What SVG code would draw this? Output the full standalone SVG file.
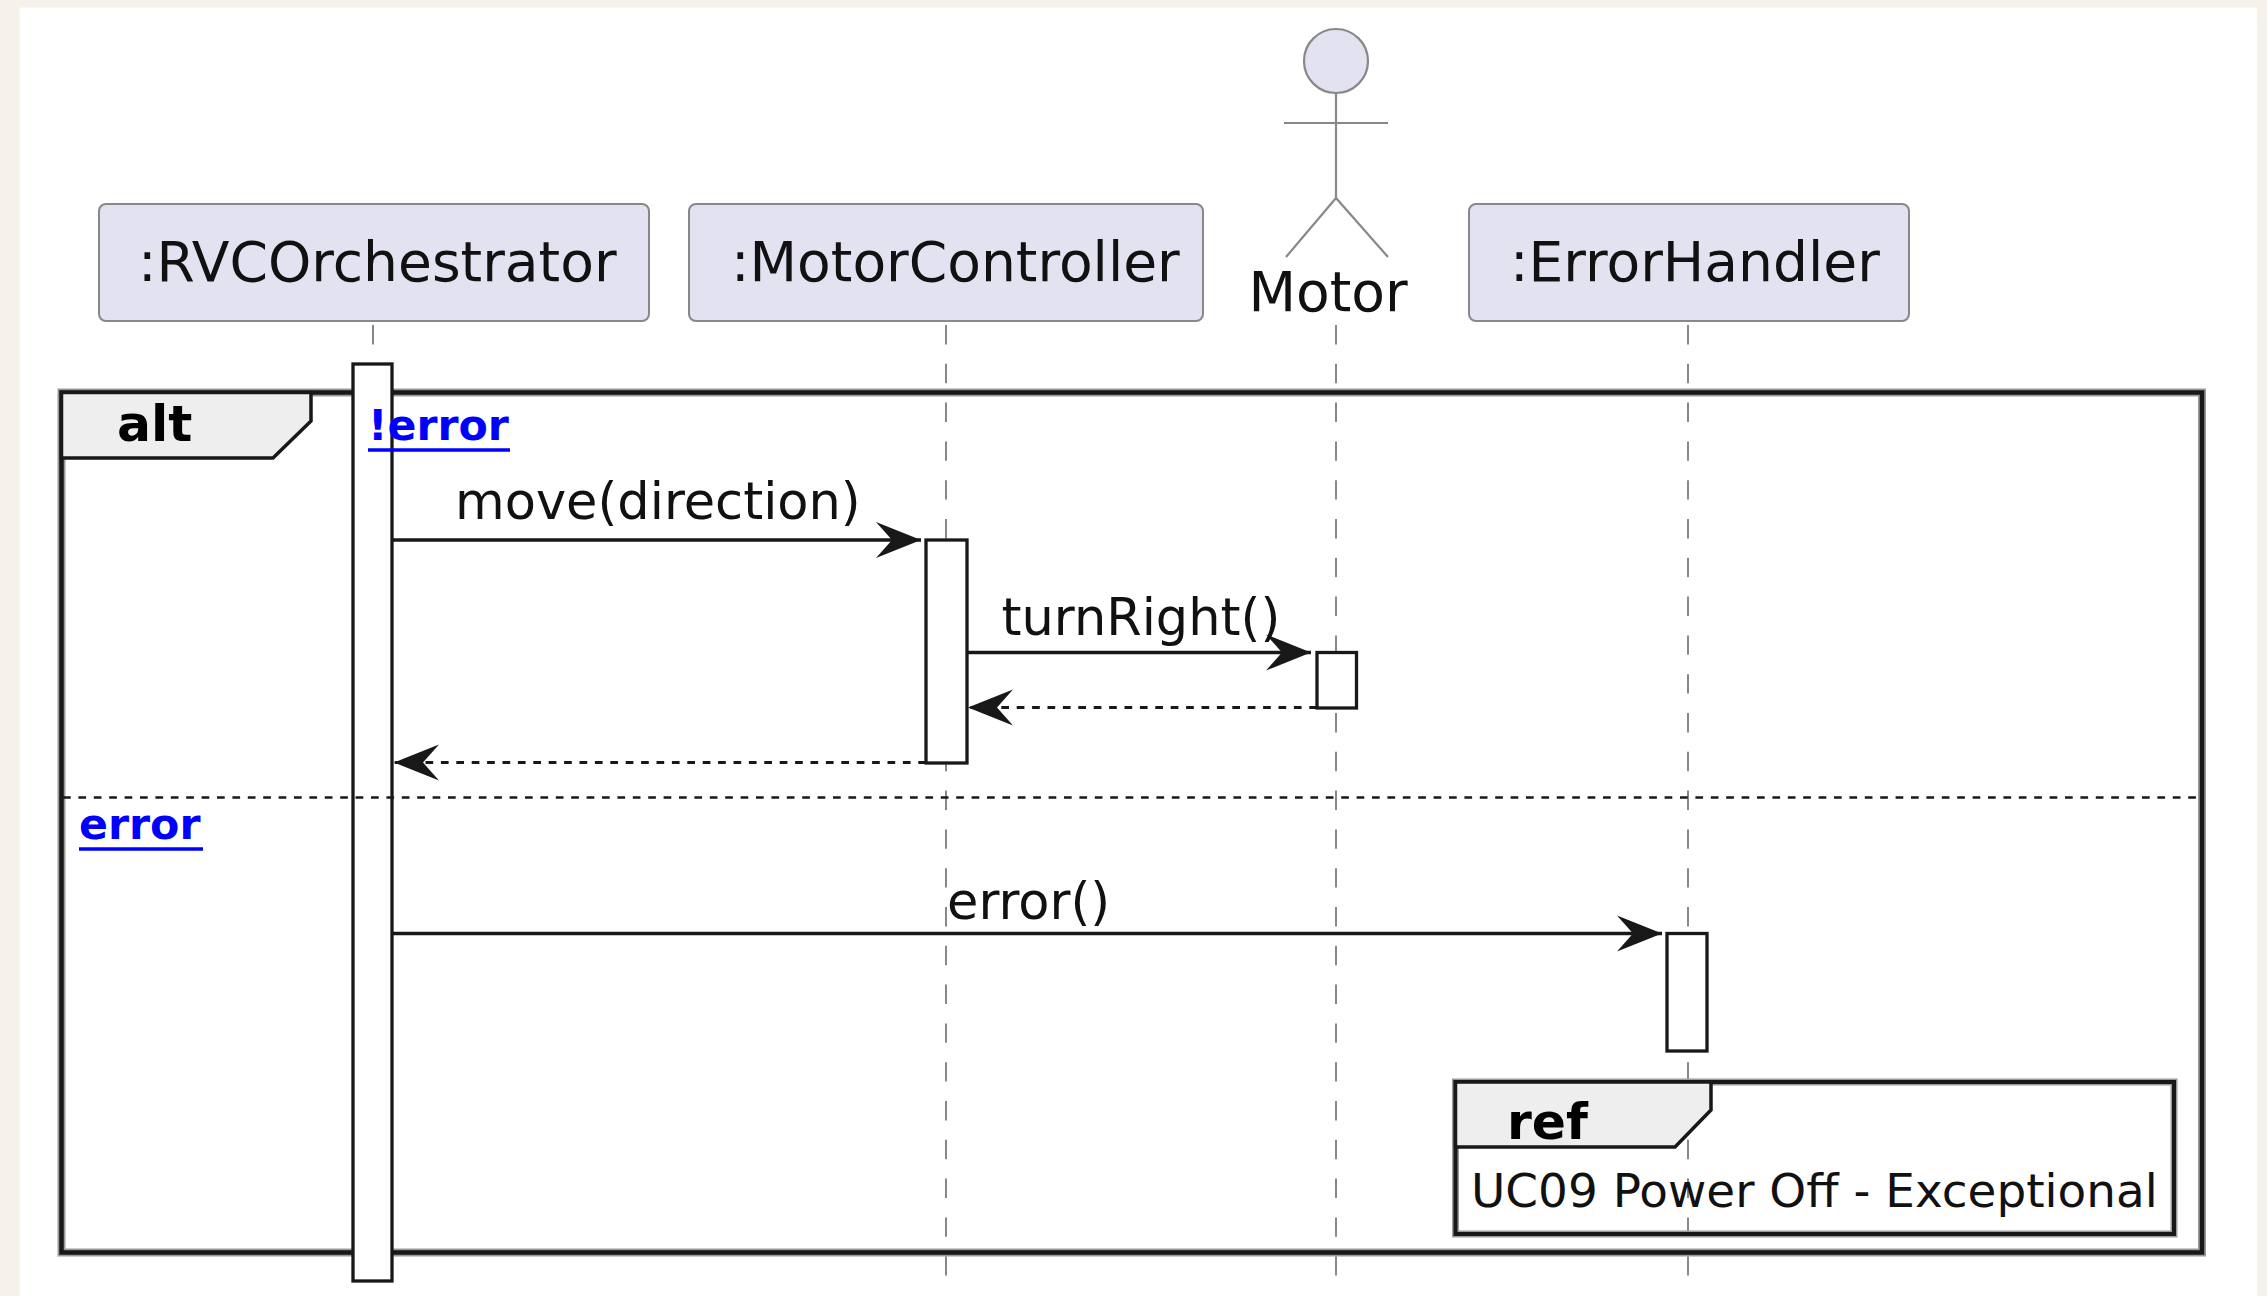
<svg xmlns="http://www.w3.org/2000/svg" width="2267" height="1296" viewBox="0 0 2267 1296">
  <defs>
    <style>
      .part { fill: #E2E2F0; stroke: #888888; stroke-width: 2; }
      .ptxt { font-family: "DejaVu Sans", "Liberation Sans", sans-serif; font-size: 55.1px; fill: #111111; }
      .mtxt { font-family: "DejaVu Sans", "Liberation Sans", sans-serif; font-size: 51px; fill: #111111; }
      .btxt { font-family: "DejaVu Sans", "Liberation Sans", sans-serif; font-size: 50.4px; font-weight: bold; fill: #000000; }
      .gtxt { font-family: "DejaVu Sans", "Liberation Sans", sans-serif; font-size: 42.7px; font-weight: bold; fill: #0000FF; }
      .rtxt { font-family: "DejaVu Sans", "Liberation Sans", sans-serif; font-size: 46.9px; fill: #111111; }
      .life { stroke: #888888; stroke-width: 2; stroke-dasharray: 19.4 19.4; fill: none; }
      .act { fill: #FFFFFF; stroke: #181818; stroke-width: 3.3; }
      .msg { stroke: #181818; stroke-width: 3.3; fill: none; marker-end: url(#arr); }
      .ret { stroke: #181818; stroke-width: 3; fill: none; stroke-dasharray: 7.7 7.7; marker-end: url(#arr); }
      .actor { stroke: #888888; stroke-width: 2.2; fill: none; }
      .frame { fill: none; stroke: #181818; stroke-width: 4.5; }
      .halo { fill: none; stroke: #999999; stroke-width: 8; }
      .tab { fill: #EEEEEE; stroke: #181818; stroke-width: 3.5; }
      .uline { stroke: #0000FF; stroke-width: 3.5; }
    </style>
    <marker id="arr" markerUnits="userSpaceOnUse" markerWidth="46" markerHeight="38" refX="45" refY="18" orient="auto" overflow="visible">
      <path d="M0,0 L45,18 L0,36 L16,18 Z" fill="#181818"/>
    </marker>
  </defs>

  <!-- page -->
  <rect x="0" y="0" width="2267" height="1296" fill="#F5F1EB"/>
  <rect x="19.5" y="7.5" width="2237.5" height="1288.5" fill="#FFFFFF"/>

  <!-- lifelines -->
  <g id="lifelines">
    <line class="life" x1="373" y1="325" x2="373" y2="1282"/>
    <line class="life" x1="946" y1="325" x2="946" y2="1282"/>
    <line class="life" x1="1336" y1="325" x2="1336" y2="1282"/>
    <line class="life" x1="1688" y1="325" x2="1688" y2="1282"/>
  </g>

  <!-- participants -->
  <g id="RVCOrchestrator">
    <rect class="part" x="99" y="204" width="550" height="117" rx="7"/>
    <text class="ptxt" x="138" y="281">:RVCOrchestrator</text>
  </g>
  <g id="MotorController">
    <rect class="part" x="689" y="204" width="514" height="117" rx="7"/>
    <text class="ptxt" x="731" y="281">:MotorController</text>
  </g>
  <g id="Motor">
    <circle cx="1336" cy="61" r="32" fill="#E2E2F0" stroke="#888888" stroke-width="2.2"/>
    <line class="actor" x1="1336" y1="93" x2="1336" y2="198"/>
    <line class="actor" x1="1284" y1="123" x2="1388" y2="123"/>
    <path class="actor" d="M1286,257 L1336,198 L1388,257"/>
    <text class="ptxt" x="1328" y="311" text-anchor="middle">Motor</text>
  </g>
  <g id="ErrorHandler">
    <rect class="part" x="1469" y="204" width="440" height="117" rx="7"/>
    <text class="ptxt" x="1510" y="281">:ErrorHandler</text>
  </g>

  <!-- alt frame -->
  <g id="alt">
    <rect class="halo" x="61.5" y="392.5" width="2140.5" height="860"/>
    <rect class="frame" x="61.5" y="392.5" width="2140.5" height="860"/>
    <path class="tab" d="M61.5,392.5 H311 V421 L273,458 H61.5 Z"/>
    <text class="btxt" x="117" y="441">alt</text>
  </g>

  <!-- activations -->
  <g id="activations">
    <rect class="act" x="353" y="364" width="39" height="917"/>
    <rect class="act" x="926" y="540" width="41" height="223"/>
    <rect class="act" x="1317" y="652.5" width="39.5" height="55.5"/>
    <rect class="act" x="1667" y="933.5" width="40" height="117.5"/>
  </g>

  <!-- alt guards and separator -->
  <g id="alt-guards">
    <text class="gtxt" x="368" y="440">!error</text>
    <line class="uline" x1="368" y1="450" x2="510" y2="450"/>
    <line x1="63" y1="797.5" x2="2200" y2="797.5" stroke="#181818" stroke-width="2.5" stroke-dasharray="7.7 7.7"/>
    <text class="gtxt" x="79" y="839">error</text>
    <line class="uline" x1="79" y1="849" x2="203" y2="849"/>
  </g>

  <!-- connectors -->
  <g id="connectors">
    <path class="msg" d="M392,540 H921"/>
    <text class="mtxt" x="455" y="519">move(direction)</text>
    <path class="msg" d="M967,652.5 H1311"/>
    <text class="mtxt" x="1001.5" y="635">turnRight()</text>
    <path class="ret" d="M1317,707.5 H968"/>
    <path class="ret" d="M926,762.5 H394"/>
    <path class="msg" d="M392,933.5 H1662"/>
    <text class="mtxt" x="947" y="919">error()</text>
  </g>

  <!-- ref -->
  <g id="ref">
    <rect x="1455.5" y="1082" width="718.5" height="152" fill="none" stroke="#999999" stroke-width="7"/>
    <rect x="1455.5" y="1082" width="718.5" height="152" fill="none" stroke="#181818" stroke-width="4"/>
    <path class="tab" d="M1455.5,1082 H1711 V1110 L1675,1147 H1455.5 Z"/>
    <text class="btxt" x="1507" y="1139">ref</text>
    <text class="rtxt" x="1471" y="1207">UC09 Power Off - Exceptional</text>
  </g>
</svg>
